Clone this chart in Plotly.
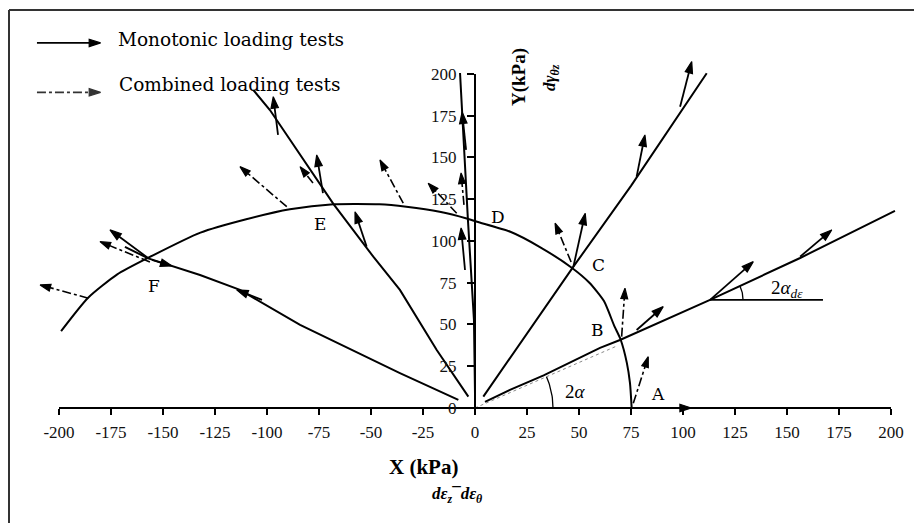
import numpy as np
import plotly.graph_objects as go

# ---------------- data (kPa) ----------------
x_tickvals = [-200, -175, -150, -125, -100, -75, -50, -25, 0, 25, 50, 75, 100, 125, 150, 175, 200]
x_ticktext = ["-200", "-175", "-150", "-125", "-100", "-75", "-50", "-25", "0",
              "25", "50", "75", "100", "125", "150", "175", "200"]
y_tickvals = [0, 25, 50, 75, 100, 125, 150, 175, 200]
y_ticktext = ["0", "25", "50", "75", "100", "125", "150", "175", "200"]

# yield locus
curve_x = [-199, -186, -172, -157, -132, -110, -89, -68, -46, -33, -17, -4, 1, 17, 31, 46.5, 55, 62, 67, 70, 73, 74.5, 75.3]
curve_y = [46, 66, 80, 90, 105, 113, 119, 122, 122, 120.5, 117.5, 113.5, 111.5, 105.5, 96.5, 84, 75, 64, 49, 41, 27, 15, 0.5]

# monotonic stress paths
pathB_x = [4.8, 16.8, 33.0, 60.1, 69.7, 113, 156.3, 201.9]
pathB_y = [3.6, 10.8, 19.5, 36.0, 40.7, 64.7, 89.8, 118]
pathC_x = [4.0, 47.3, 75.0, 111.4]
pathC_y = [6.8, 84.6, 133.0, 200.4]
pathD_x = [0.0, -0.5, -3.4, -7.2]
pathD_y = [9.0, 52.7, 112.6, 200.6]
pathE_x = [-3.2, -18.4, -36.1, -48.9, -68.1, -98.6, -106.6]
pathE_y = [6.8, 34.7, 70.7, 90.6, 122.2, 178.4, 190.4]
pathF_x = [-8.0, -36.1, -84.1, -113.0, -132.2, -157.1, -168.3]
pathF_y = [4.8, 20.8, 49.7, 70.7, 79.6, 89.6, 96.4]

# direction of 2alpha (dotted chord O-B)
chord_x = [0, 68]
chord_y = [0, 37]
# reference horizontal for 2alpha_de
horiz_x = [113, 167.3]
horiz_y = [64.7, 64.7]

# strain-increment arrows, monotonic tests (tail -> head)
mono_tail_x = [77.7, 113.0, 156.3, 47.3, 77.7, 98.6, -4.3, -4.8, -94.7, -73.1, -52.1, -102.4, -157.2, -155.3, 85]
mono_tail_y = [46.7, 64.7, 90.6, 84.6, 138.5, 180.4, 154.5, 82.6, 163.5, 128.7, 96.6, 64.7, 89.8, 88.6, 0]
mono_head_x = [90.5, 133.8, 171.5, 53.0, 81.7, 104.2, -6.2, -6.7, -97.0, -76.1, -57.7, -114.6, -175.5, -145.7, 104]
mono_head_y = [60.7, 87.6, 106.6, 116.6, 163.5, 207.4, 177.2, 107.8, 186.4, 151.5, 117.5, 70.7, 106.6, 85.0, 0]

# strain-increment arrows, combined loading tests
comb_tail_x = [-185.9, -156.3, -90.5, -77.9, -34.5, -8.8, -5.3, 46.2, 70.5, 76.1]
comb_tail_y = [65.7, 87.4, 120.5, 134.7, 122.6, 116.6, 121.6, 87.4, 42.7, 2.8]
comb_head_x = [-209.1, -180.3, -113.0, -84.1, -45.7, -22.5, -6.7, 38.5, 72.1, 83.3]
comb_head_y = [73.7, 99.6, 144.5, 144.5, 148.5, 134.6, 140.7, 110.6, 71.7, 30.7]

point_labels = ["A", "B", "C", "D", "E", "F"]
label_x = [88, 58.7, 59.6, 11.1, -74.5, -154.3]
label_y = [8.4, 46.7, 85.6, 114.4, 110.2, 73.1]

# ---------------- figure ----------------
W, H = 914, 523
XR = [-228.37, 211.06]
YR = [-68.9, 244.3]
SX = W / (XR[1] - XR[0])   # px per kPa
SY = H / (YR[1] - YR[0])

INK = "#000000"
fig = go.Figure()

def line(xs, ys, width=2.0, dash="solid", color=INK, shape="linear"):
    fig.add_trace(go.Scatter(x=xs, y=ys, mode="lines", hoverinfo="skip",
                             line=dict(color=color, width=width, dash=dash, shape=shape,
                                       smoothing=0.6)))

line(curve_x, curve_y, 2.0, shape="spline")
for px, py in [(pathB_x, pathB_y), (pathC_x, pathC_y), (pathD_x, pathD_y),
               (pathE_x, pathE_y), (pathF_x, pathF_y)]:
    line(px, py, 2.0)
line(chord_x, chord_y, 1.0, dash="dot", color="#888888")
line(horiz_x, horiz_y, 1.6)

# arcs for the angle marks
t1 = np.linspace(0, np.arctan2(chord_y[1] * SY, chord_x[1] * SX), 20)
line(list(78 * np.cos(t1) / SX), list(78 * np.sin(t1) / SY), 1.3)
t2 = np.linspace(0, np.arctan2((pathB_y[6] - pathB_y[5]) * SY, (pathB_x[6] - pathB_x[5]) * SX), 20)
line(list(horiz_x[0] + 33 * np.cos(t2) / SX), list(horiz_y[0] + 33 * np.sin(t2) / SY), 1.3)

def arrows(tx, ty, hx, hy, dash, width, color, size):
    xs, ys, ss = [], [], []
    for a, b, c, d in zip(tx, ty, hx, hy):
        xs += [a, c, None]
        ys += [b, d, None]
        ss += [0, size, 0]
    fig.add_trace(go.Scatter(x=xs, y=ys, mode="lines+markers", hoverinfo="skip",
                             line=dict(color=color, width=width, dash=dash),
                             marker=dict(symbol="arrow", size=ss, angleref="previous",
                                         color=color, opacity=1, line=dict(width=1.2, color=color))))

arrows(mono_tail_x, mono_tail_y, mono_head_x, mono_head_y, "solid", 1.8, INK, 12)
arrows(comb_tail_x, comb_tail_y, comb_head_x, comb_head_y, "dashdot", 1.6, INK, 11)

# legend glyphs (drawn in data space at the top-left)
arrows([-210.6], [218.6], [-180.0], [218.6], "solid", 1.8, INK, 12)
arrows([-210.6], [189.0], [-180.0], [189.0], "dashdot", 1.8, "#333333", 12)

# dummy trace to instantiate the visible axes
fig.add_trace(go.Scatter(x=[0], y=[0], xaxis="x2", yaxis="y2", mode="markers",
                         marker=dict(opacity=0), hoverinfo="skip"))

x0px = (0 - XR[0]) * SX
y0px = (0 - YR[0]) * SY
tickfont = dict(family="Liberation Serif", size=17, color="#111")

fig.update_layout(
    width=W, height=H, autosize=False,
    margin=dict(l=0, r=0, t=0, b=0, pad=0, autoexpand=False),
    paper_bgcolor="white", plot_bgcolor="rgba(0,0,0,0)",
    showlegend=False,
    xaxis=dict(range=XR, visible=False, domain=[0, 1]),
    yaxis=dict(range=YR, visible=False, domain=[0, 1]),
    xaxis2=dict(range=[-200, 200], domain=[(-200 - XR[0]) * SX / W, (200 - XR[0]) * SX / W],
                anchor="free", position=y0px / H,
                showline=True, linewidth=2, linecolor=INK, showgrid=False, zeroline=False,
                ticks="outside", ticklen=6, tickwidth=2, tickcolor=INK, ticklabelstandoff=3,
                tickvals=x_tickvals, ticktext=x_ticktext, tickfont=tickfont),
    yaxis2=dict(range=[0, 200], domain=[y0px / H, (200 - YR[0]) * SY / H],
                anchor="free", position=x0px / W,
                showline=True, linewidth=2, linecolor=INK, showgrid=False, zeroline=False,
                ticks="outside", ticklen=7, tickwidth=2, tickcolor=INK, ticklabelstandoff=7,
                tickvals=y_tickvals, ticktext=y_ticktext, tickfont=tickfont),
)

serif = "DejaVu Serif"
C = dict(xanchor="center", yanchor="middle", showarrow=False)
ann = []
for t, lx, ly in zip(point_labels, label_x, label_y):
    ann.append(dict(x=lx, y=ly, xref="x", yref="y", text=t, **C,
                    font=dict(family=serif, size=17, color=INK)))
ann.append(dict(x=48.1, y=9.6, xref="x", yref="y", text="2<i>α</i>", **C,
                font=dict(family="Liberation Serif", size=19, color=INK)))
ann.append(dict(x=150, y=71.5, xref="x", yref="y", text="2<i>α</i><sub><i>dε</i></sub>", **C,
                font=dict(family="Liberation Serif", size=19, color=INK)))
ann.append(dict(x=116 / W, y=1 - 40 / H, xref="paper", yref="paper", xanchor="left", yanchor="middle",
                text="Monotonic loading tests", showarrow=False,
                font=dict(family=serif, size=18.5, color=INK)))
ann.append(dict(x=117 / W, y=1 - 84 / H, xref="paper", yref="paper", xanchor="left", yanchor="middle",
                text="Combined loading tests", showarrow=False,
                font=dict(family=serif, size=18.5, color=INK)))
ann.append(dict(x=519 / W, y=1 - 77 / H, xref="paper", yref="paper", textangle=-90,
                text="<b>Y(kPa)</b>", **C,
                font=dict(family="Liberation Serif", size=19, color=INK)))
ann.append(dict(x=551 / W, y=1 - 78 / H, xref="paper", yref="paper", textangle=-90,
                text="<b><i>dγ</i></b><sub><b><i>θz</i></b></sub>", **C,
                font=dict(family="Liberation Serif", size=17, color=INK)))
ann.append(dict(x=423 / W, y=1 - 467 / H, xref="paper", yref="paper",
                text="<b>X (kPa)</b>", **C,
                font=dict(family="Liberation Serif", size=21, color=INK)))
ann.append(dict(x=457 / W, y=1 - 495 / H, xref="paper", yref="paper",
                text="<b><i>dε</i></b><sub><b><i>z</i></b></sub><b>¯</b><b><i>dε</i></b><sub><b><i>θ</i></b></sub>",
                **C, font=dict(family="Liberation Serif", size=17, color=INK)))
fig.update_layout(annotations=ann)

# outer frame (top and left edges visible in the original crop)
fig.add_shape(type="line", xref="paper", yref="paper", x0=9 / W, x1=1, y0=1 - 10 / H, y1=1 - 10 / H,
              line=dict(color="#333", width=2))
fig.add_shape(type="line", xref="paper", yref="paper", x0=9 / W, x1=9 / W, y0=0, y1=1 - 10 / H,
              line=dict(color="#333", width=2))

fig.write_html("out.html")
